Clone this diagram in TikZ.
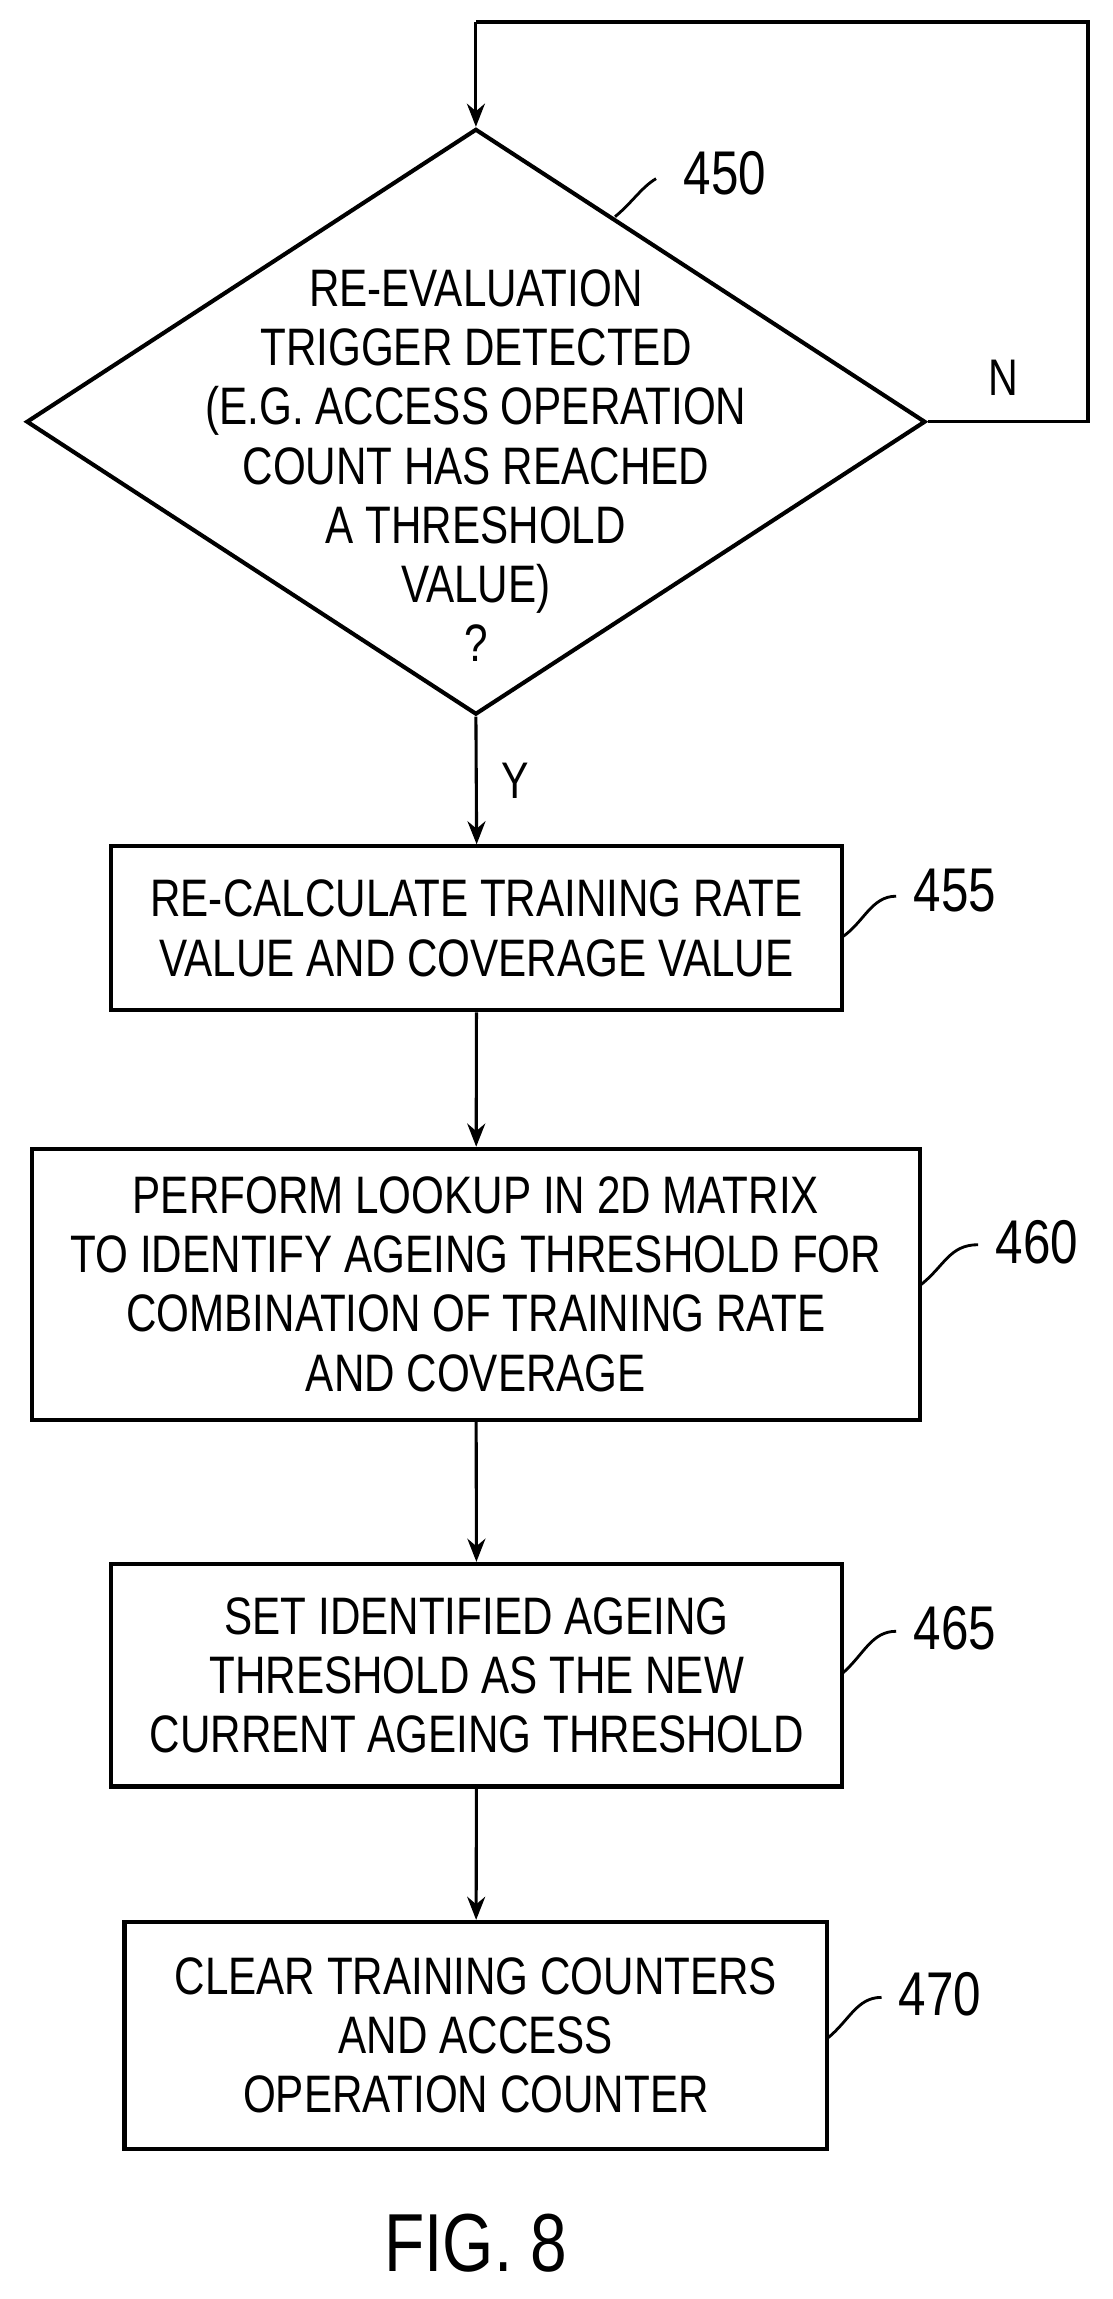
\documentclass[tikz,border=0pt]{standalone}
\usepackage{fontspec}
\setmainfont{Liberation Sans}[FakeStretch=0.8]
\usetikzlibrary{shapes.geometric,arrows.meta}

\tikzset{
 box/.style={draw, line width=1.6pt, align=center, font=\fontsize{20.5}{23}\selectfont, inner sep=0pt},
 numeral/.style={font=\fontsize{24}{28}\selectfont},
 flow/.style={line width=1.2pt, -{Stealth[length=9pt,width=7pt]}},
 lead/.style={line width=1.1pt}
}

\begin{document}
\begin{tikzpicture}[x=0.02cm,y=-0.02cm]
\useasboundingbox (0,0) rectangle (760,1570);
% decision
\node[box, diamond, minimum width=614*0.02cm, minimum height=400*0.02cm, aspect=1.535] (q) at (325,288) {};
\node[align=center, font=\fontsize{20.5}{23}\selectfont] (qt) at (325,318) {RE-EVALUATION\\TRIGGER DETECTED\\(E.G. ACCESS OPERATION\\COUNT HAS REACHED\\A THRESHOLD\\VALUE)\\?};
\coordinate (r1) at (743,288);
\coordinate (r2) at (743,15);
\coordinate (r3) at (325,15);
\draw[line width=1.2pt] (q.east) -- (r1) -- (r2) -- (r3);
\draw[flow] (r3) -- (q.north);
\node[font=\fontsize{20}{24}\selectfont] (n) at (685,258) {N};
\node[numeral] (l450) at (495,118) {450};
\draw[lead] (420,148) .. controls (432,138) and (438,128) .. (448,122);

% boxes
\node[box, minimum width=499*0.02cm, minimum height=112*0.02cm] (b1) at (325.5,634) {RE-CALCULATE TRAINING RATE\\VALUE AND COVERAGE VALUE};
\node[box, minimum width=606*0.02cm, minimum height=185*0.02cm] (b2) at (325,877) {PERFORM LOOKUP IN 2D MATRIX\\TO IDENTIFY AGEING THRESHOLD FOR\\COMBINATION OF TRAINING RATE\\AND COVERAGE};
\node[box, minimum width=499*0.02cm, minimum height=152*0.02cm] (b3) at (325.5,1144) {SET IDENTIFIED AGEING\\THRESHOLD AS THE NEW\\CURRENT AGEING THRESHOLD};
\node[box, minimum width=480*0.02cm, minimum height=155*0.02cm] (b4) at (325,1390) {CLEAR TRAINING COUNTERS\\AND ACCESS\\OPERATION COUNTER};

\draw[flow] (q.south) -- node[right, xshift=6pt, font=\fontsize{20}{24}\selectfont] {Y} (b1.north);
\draw[flow] (b1) -- (b2);
\draw[flow] (b2) -- (b3);
\draw[flow] (b3) -- (b4);

% reference numerals
\node[numeral] (l455) at (652,608) {455};
\draw[lead] (575,640) .. controls (590,630) and (595,612) .. (612,612);
\node[numeral] (l460) at (708,848) {460};
\draw[lead] (628,878) .. controls (645,865) and (648,850) .. (668,850);
\node[numeral] (l465) at (652,1112) {465};
\draw[lead] (575,1143) .. controls (590,1130) and (595,1114) .. (612,1114);
\node[numeral] (l470) at (642,1362) {470};
\draw[lead] (565,1392) .. controls (580,1380) and (585,1364) .. (602,1364);

\node[font=\fontsize{32}{36}\selectfont] (fig) at (325,1532) {FIG. 8};
\end{tikzpicture}
\end{document}
